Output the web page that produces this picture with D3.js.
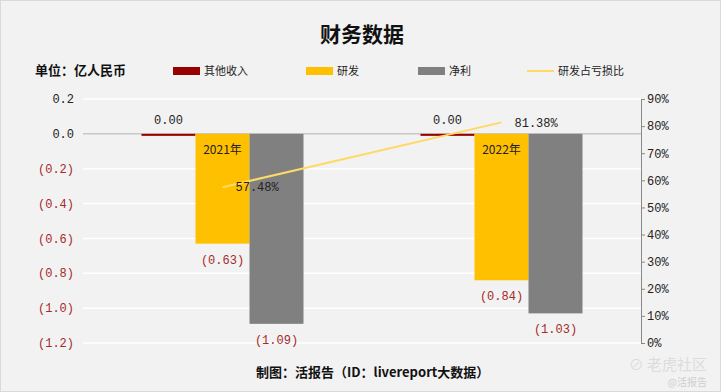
<!DOCTYPE html>
<html><head><meta charset="utf-8">
<script src="https://cdn.jsdelivr.net/npm/d3@7"></script>
<style>body{margin:0;background:#fff}svg{display:block}</style>
</head><body>
<script>
const categories = ["2021年", "2022年"];
const otherIncome = [0.00, 0.00];
const rnd = [-0.63, -0.84];
const netProfit = [-1.09, -1.03];
const ratio = [57.48, 81.38];
const leftTicks = [0.2, 0.0, -0.2, -0.4, -0.6, -0.8, -1.0, -1.2];
const rightTicks = [0, 10, 20, 30, 40, 50, 60, 70, 80, 90];
const seriesNames = ["其他收入", "研发", "净利", "研发占亏损比"];

const W = 721, H = 392;
const svg = d3.select("body").append("svg").attr("width", W).attr("height", H);
svg.append("rect").attr("x", 0.5).attr("y", 0.5).attr("width", W - 1).attr("height", H - 1)
  .attr("fill", "#f2f2f2").attr("stroke", "#d9d9d9");

const L = 83, R = 641, T = 99, B = 343;
const x = d3.scaleBand().domain(categories).range([L, R]).paddingInner(0).paddingOuter(0);
const y = d3.scaleLinear().domain([-1.2, 0.2]).range([B, T]);
const y2 = d3.scaleLinear().domain([0, 90]).range([B, T]);
const barW = 54;
const colors = ["#990000", "#FFC000", "#808080"];
const series = [otherIncome, rnd, netProfit];
const mono = "'Liberation Mono','DejaVu Sans Mono',monospace";

// gridlines
svg.append("g").selectAll("line").data(leftTicks).join("line")
  .attr("x1", L).attr("x2", R).attr("y1", d => y(d)).attr("y2", d => y(d))
  .attr("stroke", d => d === 0 ? "#c8c8c8" : "#ffffff").attr("stroke-width", 1.5);

// left axis labels
const fmtL = d => d < 0 ? "(" + Math.abs(d).toFixed(1) + ")" : d.toFixed(1);
svg.append("g").selectAll("text").data(leftTicks).join("text")
  .attr("x", 74).attr("y", d => y(d)).attr("dy", "0.35em").attr("text-anchor", "end")
  .attr("font-family", mono).attr("font-size", 12)
  .attr("fill", d => d < 0 ? "#a52a2a" : "#222").text(fmtL);

// right axis
const ax = d3.axisRight(y2).tickValues(rightTicks).tickSize(4).tickFormat(d => d + "%");
const gR = svg.append("g").attr("transform", `translate(${R},0)`).call(ax);
gR.select(".domain").attr("stroke", "#888");
gR.selectAll(".tick line").attr("stroke", "#888");
gR.selectAll("text").attr("font-family", mono).attr("font-size", 12).attr("fill", "#222").attr("x", 6);

// bars
series.forEach((vals, si) => {
  svg.append("g").selectAll("rect").data(vals).join("rect")
    .attr("x", (d, i) => x(categories[i]) + x.bandwidth() / 2 - barW * 1.5 + si * barW)
    .attr("y", d => Math.min(y(0), y(d)))
    .attr("width", barW)
    .attr("height", d => Math.max(2, Math.abs(y(d) - y(0))))
    .attr("fill", colors[si]);
});

// bar labels
const fmtV = d => d < 0 ? "(" + Math.abs(d).toFixed(2) + ")" : d.toFixed(2);
series.forEach((vals, si) => {
  svg.append("g").selectAll("text").data(vals).join("text")
    .attr("x", (d, i) => x(categories[i]) + x.bandwidth() / 2 - barW + si * barW)
    .attr("y", d => d < 0 ? y(d) + 20 : y(d) - 10)
    .attr("text-anchor", "middle")
    .attr("font-family", mono).attr("font-size", 12)
    .attr("fill", d => d < 0 ? "#a52a2a" : "#222").text(fmtV);
});

// category labels inside yellow bars
svg.append("g").selectAll("text").data(categories).join("text")
  .attr("x", d => x(d) + x.bandwidth() / 2).attr("y", y(0) + 20)
  .attr("text-anchor", "middle").attr("font-family", "'Noto Sans CJK SC',sans-serif")
  .attr("font-size", 12).attr("fill", "#222").text(d => d);

// line
const line = d3.line().x((d, i) => x(categories[i]) + x.bandwidth() / 2).y(d => y2(d));
svg.append("path").datum(ratio).attr("d", line).attr("fill", "none")
  .attr("stroke", "#FFD966").attr("stroke-width", 2);
svg.append("g").selectAll("text").data(ratio).join("text")
  .attr("x", (d, i) => x(categories[i]) + x.bandwidth() / 2 + 13).attr("y", d => y2(d)).attr("dy", "0.35em")
  .attr("font-family", mono).attr("font-size", 12).attr("fill", "#222").text(d => d.toFixed(2) + "%");

// title
svg.append("text").attr("x", 362).attr("y", 42).attr("text-anchor", "middle")
  .attr("font-family", "'Noto Sans CJK SC',sans-serif").attr("font-weight", "bold").attr("font-size", 21)
  .attr("fill", "#111").text("财务数据");
svg.append("text").attr("x", 35).attr("y", 75)
  .attr("font-family", "'Noto Sans CJK SC',sans-serif").attr("font-weight", "bold").attr("font-size", 13)
  .attr("fill", "#111").text("单位：亿人民币");

// legend
const legX = [173, 306, 418, 527];
seriesNames.forEach((n, i) => {
  const g = svg.append("g").attr("transform", `translate(${legX[i]},71)`);
  if (i < 3) g.append("rect").attr("x", 0).attr("y", -4).attr("width", 27).attr("height", 8).attr("fill", colors[i]);
  else g.append("line").attr("x1", 0).attr("x2", 27).attr("y1", 0).attr("y2", 0).attr("stroke", "#FFD966").attr("stroke-width", 2);
  g.append("text").attr("x", 31).attr("y", 0).attr("dy", "0.35em")
    .attr("font-family", "'Noto Sans CJK SC',sans-serif").attr("font-size", 11).attr("fill", "#222").text(n);
});

// footer
svg.append("text").attr("x", 256).attr("y", 377)
  .attr("font-family", "'Noto Sans CJK SC',sans-serif").attr("font-weight", "bold").attr("font-size", 13)
  .attr("fill", "#111").text("制图：活报告（ID：livereport大数据）");

// watermark
svg.append("text").attr("x", 707).attr("y", 370).attr("text-anchor", "end")
  .attr("font-family", "'Noto Sans CJK SC',sans-serif").attr("font-size", 15).attr("fill", "#dcdcdc").text("⊘ 老虎社区");
svg.append("text").attr("x", 707).attr("y", 386).attr("text-anchor", "end")
  .attr("font-family", "'Noto Sans CJK SC',sans-serif").attr("font-size", 10).attr("fill", "#cfcfcf").text("@活报告");
</script>
</body></html>
